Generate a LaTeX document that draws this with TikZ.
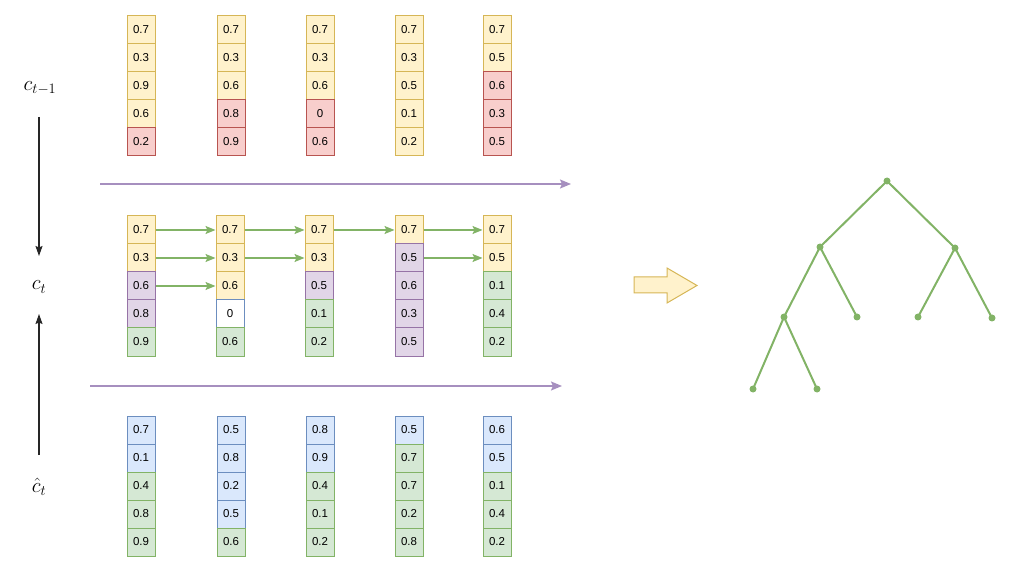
\documentclass[tikz,border=0pt]{standalone}
\usepackage{fontspec}
\setsansfont{Liberation Sans}
\usetikzlibrary{arrows.meta}
\definecolor{Yf}{HTML}{FFF2CC}\definecolor{Ys}{HTML}{D6B656}
\definecolor{Rf}{HTML}{F8CECC}\definecolor{Rs}{HTML}{B85450}
\definecolor{Pf}{HTML}{E1D5E7}\definecolor{Ps}{HTML}{9673A6}
\definecolor{Gf}{HTML}{D5E8D4}\definecolor{Gs}{HTML}{82B366}
\definecolor{Bf}{HTML}{DAE8FC}\definecolor{Bs}{HTML}{6C8EBF}
\definecolor{Wf}{HTML}{FFFFFF}\definecolor{Ws}{HTML}{6C8EBF}
\definecolor{flow}{HTML}{A68FBF}
\tikzset{
  cell/.style={draw=#1s, fill=#1f, minimum width=28pt, minimum height=28pt,
    inner sep=0pt, line width=1pt, font=\sffamily\fontsize{11.5}{13}\selectfont},
  garrow/.style={draw=Gs, line width=1.4pt, -{Stealth[length=10pt,width=8pt,inset=2pt]}},
  parrow/.style={draw=flow, line width=1.6pt, -{Stealth[length=11pt,width=9pt,inset=2pt]}},
  karrow/.style={draw=black!85, line width=1.2pt, -{Stealth[length=10pt,width=7pt,inset=1.5pt]}},
  lab/.style={inner sep=0pt, font=\fontsize{20}{22}\selectfont},
  tnode/.style={circle, fill=Gs, inner sep=0pt, minimum size=7pt},
  tedge/.style={draw=Gs, line width=2pt},
}
\begin{document}
\begin{tikzpicture}[x=1pt,y=-1pt]
\useasboundingbox (0,0) rectangle (1012,569);
\newcommand{\mycol}[4]{% prefix, cx, top, list
  \foreach \v/\s [count=\i] in {#4}
    \node[cell=\s] (#1-\i) at (#2, #3+14+28*\i-28) {\v};
}
% top row (c_{t-1})
\mycol{t1}{141}{16}{0.7/Y,0.3/Y,0.9/Y,0.6/Y,0.2/R}
\mycol{t2}{231}{16}{0.7/Y,0.3/Y,0.6/Y,0.8/R,0.9/R}
\mycol{t3}{320}{16}{0.7/Y,0.3/Y,0.6/Y,0/R,0.6/R}
\mycol{t4}{409}{16}{0.7/Y,0.3/Y,0.5/Y,0.1/Y,0.2/Y}
\mycol{t5}{497}{16}{0.7/Y,0.5/Y,0.6/R,0.3/R,0.5/R}
% middle row (c_t)
\mycol{m1}{141}{216}{0.7/Y,0.3/Y,0.6/P,0.8/P,0.9/G}
\mycol{m2}{230}{216}{0.7/Y,0.3/Y,0.6/Y,0/W,0.6/G}
\mycol{m3}{319}{216}{0.7/Y,0.3/Y,0.5/P,0.1/G,0.2/G}
\mycol{m4}{409}{216}{0.7/Y,0.5/P,0.6/P,0.3/P,0.5/P}
\mycol{m5}{497}{216}{0.7/Y,0.5/Y,0.1/G,0.4/G,0.2/G}
% bottom row (hat c_t)
\mycol{b1}{141}{416}{0.7/B,0.1/B,0.4/G,0.8/G,0.9/G}
\mycol{b2}{231}{416}{0.5/B,0.8/B,0.2/B,0.5/B,0.6/G}
\mycol{b3}{320}{416}{0.8/B,0.9/B,0.4/G,0.1/G,0.2/G}
\mycol{b4}{409}{416}{0.5/B,0.7/G,0.7/G,0.2/G,0.8/G}
\mycol{b5}{497}{416}{0.6/B,0.5/B,0.1/G,0.4/G,0.2/G}
% green arrows
\draw[garrow] (m1-1.east) -- (m2-1.west);
\draw[garrow] (m2-1.east) -- (m3-1.west);
\draw[garrow] (m3-1.east) -- (m4-1.west);
\draw[garrow] (m4-1.east) -- (m5-1.west);
\draw[garrow] (m1-2.east) -- (m2-2.west);
\draw[garrow] (m2-2.east) -- (m3-2.west);
\draw[garrow] (m4-2.east) -- (m5-2.west);
\draw[garrow] (m1-3.east) -- (m2-3.west);
% purple flow arrows
\coordinate (pa1) at (100,184); \coordinate (pa2) at (571,184);
\coordinate (pb1) at (90,386);  \coordinate (pb2) at (562,386);
\draw[parrow] (pa1) -- (pa2);
\draw[parrow] (pb1) -- (pb2);
% left labels
\node[lab] (lct1) at (40,88) {$c_{t-1}$};
\node[lab] (lct) at (39,287) {$c_t$};
\node[lab] (lcth) at (39,487) {$\hat{c}_t$};
\coordinate (k1) at (39,117); \coordinate (k2) at (39,256);
\coordinate (k3) at (39,455); \coordinate (k4) at (39,314);
\draw[karrow] (k1) -- (k2);
\draw[karrow] (k3) -- (k4);
% block arrow
\draw[draw=Ys, fill=Yf, line width=1pt, line join=miter]
  (634,277) -- (667,277) -- (667,268) -- (697,285.5) -- (667,303) -- (667,293) -- (634,293) -- cycle;
% tree
\node[tnode] (r) at (887,181) {};
\node[tnode] (l1) at (820,247) {};
\node[tnode] (r1) at (955,248) {};
\node[tnode] (ll) at (784,317) {};
\node[tnode] (lr) at (857,317) {};
\node[tnode] (rl) at (918,317) {};
\node[tnode] (rr) at (992,318) {};
\node[tnode] (lll) at (753,389) {};
\node[tnode] (llr) at (817,389) {};
\draw[tedge] (r.center) -- (l1.center);
\draw[tedge] (r.center) -- (r1.center);
\draw[tedge] (l1.center) -- (ll.center);
\draw[tedge] (l1.center) -- (lr.center);
\draw[tedge] (r1.center) -- (rl.center);
\draw[tedge] (r1.center) -- (rr.center);
\draw[tedge] (ll.center) -- (lll.center);
\draw[tedge] (ll.center) -- (llr.center);
\end{tikzpicture}
\end{document}
